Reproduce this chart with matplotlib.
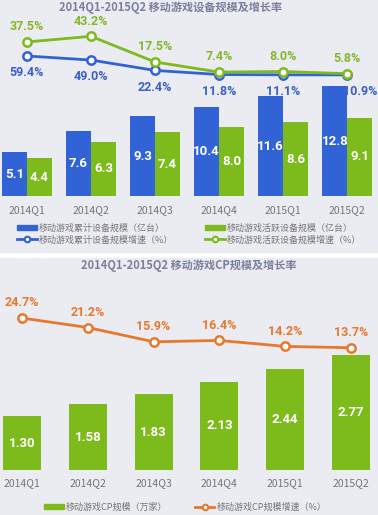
import matplotlib.pyplot as plt
from matplotlib.patches import Rectangle
from matplotlib.lines import Line2D

plt.rcParams['font.family'] = ['Noto Sans CJK SC', 'DejaVu Sans']

# Dados do gráfico superior
trimestres = ["2014Q1", "2014Q2", "2014Q3", "2014Q4", "2015Q1", "2015Q2"]
acumulado = [5.1, 7.6, 9.3, 10.4, 11.6, 12.8]
ativos = [4.4, 6.3, 7.4, 8.0, 8.6, 9.1]
cresc_acumulado = [59.4, 49.0, 22.4, 11.8, 11.1, 10.9]
cresc_ativos = [37.5, 43.2, 17.5, 7.4, 8.0, 5.8]

# Dados do gráfico inferior
cp_escala = [1.30, 1.58, 1.83, 2.13, 2.44, 2.77]
cp_cresc = [24.7, 21.2, 15.9, 16.4, 14.2, 13.7]

AZUL = "#3163d6"
VERDE = "#7dba1c"
LARANJA = "#e8782e"
FUNDO = "#ebecf2"
CINZA = "#757575"
TITULO = "#7a7f9c"
NUM = ["Roboto", "DejaVu Sans"]  # fonte mais estreita para os números

W, H = 378, 515
fig = plt.figure(figsize=(W / 100, H / 100), dpi=100, facecolor="white")

def fy(px):  # pixel a partir do topo -> fração da figura
    return 1 - px / H

# Fundos dos painéis
fig.patches.append(Rectangle((0, fy(252)), 1, 1 - fy(252), transform=fig.transFigure, color=FUNDO, zorder=-10))
fig.patches.append(Rectangle((0, 0), 1, fy(258), transform=fig.transFigure, color=FUNDO, zorder=-10))

x = list(range(len(trimestres)))

# ---------- Painel superior ----------
ax1 = fig.add_axes([0, fy(196), 1, fy(20) - fy(196)])
ax1.set_xlim(-0.42, 5.48)
ax1.set_ylim(0, 20.5)
larg = 0.39
b1 = ax1.bar([i - larg / 2 for i in x], acumulado, larg, color=AZUL)
b2 = ax1.bar([i + larg / 2 for i in x], ativos, larg, color=VERDE)
for barras in (b1, b2):
    for b in barras:
        ax1.text(b.get_x() + b.get_width() / 2, b.get_height() / 2, f"{b.get_height():.1f}",
                 ha="center", va="center", color="white", fontsize=9.5, fontweight="bold",
                 family=NUM)
ax1.axis("off")
for i, t in enumerate(trimestres):
    ax1.text(i, -1.6, t, ha="center", va="center", color=CINZA, fontsize=7.5)

axb = ax1.twinx()
axb.set_ylim(-299.6, 151.7)
axb.plot(x, cresc_acumulado, color=AZUL, lw=2, marker="o", ms=6, mfc="white", mew=1.8, zorder=5)
axb.axis("off")
for i, v in enumerate(cresc_acumulado):
    dx = 9 if i == len(x) - 1 else 0
    axb.annotate(f"{v:.1f}%", (i, v), xytext=(dx, -12), textcoords="offset points",
                 ha="center", va="center", color="#3a5fcc", fontsize=9, fontweight="bold",
                 family=NUM)

axg = ax1.twinx()
axg.set_ylim(-116.5, 59.5)
axg.plot(x, cresc_ativos, color=VERDE, lw=2, marker="o", ms=6, mfc="white", mew=1.8, zorder=6)
axg.axis("off")
for i, v in enumerate(cresc_ativos):
    axg.annotate(f"{v:.1f}%", (i, v), xytext=(0, 11), textcoords="offset points",
                 ha="center", va="center", color="#86b52a", fontsize=9, fontweight="bold",
                 family=NUM)

fig.text(0.45, fy(8), "2014Q1-2015Q2 移动游戏设备规模及增长率", ha="center", va="center",
         color=TITULO, fontsize=8, fontweight="bold")

leg1 = [Rectangle((0, 0), 1, 1, color=AZUL), Rectangle((0, 0), 1, 1, color=VERDE),
        Line2D([], [], color=AZUL, lw=2, marker="o", ms=4, mfc="white", mew=1.5),
        Line2D([], [], color=VERDE, lw=2, marker="o", ms=4, mfc="white", mew=1.5)]
nomes1 = ["移动游戏累计设备规模（亿台）", "移动游戏活跃设备规模（亿台）",
          "移动游戏累计设备规模增速（%）", "移动游戏活跃设备规模增速（%）"]
fig.legend([leg1[0], leg1[2], leg1[1], leg1[3]], [nomes1[0], nomes1[2], nomes1[1], nomes1[3]],
           ncol=2, loc="center", bbox_to_anchor=(0.5, fy(234)), frameon=False,
           fontsize=6.5, labelcolor=CINZA, handlelength=2.2, handleheight=0.6,
           handletextpad=0.2, columnspacing=3.5, labelspacing=0.25)

# ---------- Painel inferior ----------
ax2 = fig.add_axes([0, fy(470), 1, fy(280) - fy(470)])
ax2.set_xlim(-0.334, 5.41)
ax2.set_ylim(0, 4.58)
b3 = ax2.bar(x, cp_escala, 0.58, color=VERDE)
for b in b3:
    ax2.text(b.get_x() + b.get_width() / 2, b.get_height() / 2, f"{b.get_height():.2f}",
             ha="center", va="center", color="white", fontsize=9.5, fontweight="bold",
             family=NUM)
ax2.axis("off")
for i, t in enumerate(trimestres):
    ax2.text(i, -0.31, t, ha="center", va="center", color=CINZA, fontsize=7.5)

axo = ax2.twinx()
axo.set_ylim(-31.6, 38.8)
axo.plot(x, cp_cresc, color=LARANJA, lw=2, marker="o", ms=6, mfc="white", mew=1.8, zorder=5)
axo.axis("off")
for i, v in enumerate(cp_cresc):
    axo.annotate(f"{v:.1f}%", (i, v), xytext=(0, 11), textcoords="offset points",
                 ha="center", va="center", color=LARANJA, fontsize=9, fontweight="bold",
                 family=NUM)

fig.text(0.5, fy(266), "2014Q1-2015Q2 移动游戏CP规模及增长率", ha="center", va="center",
         color=TITULO, fontsize=8, fontweight="bold")

leg2 = [Rectangle((0, 0), 1, 1, color=VERDE),
        Line2D([], [], color=LARANJA, lw=2, marker="o", ms=4, mfc="white", mew=1.5)]
fig.legend(leg2, ["移动游戏CP规模（万家）", "移动游戏CP规模增速（%）"],
           ncol=2, loc="center", bbox_to_anchor=(0.49, fy(507)), frameon=False,
           fontsize=6.5, labelcolor=CINZA, handlelength=2.2, handleheight=0.6,
           handletextpad=0.2, columnspacing=3.0)

fig.savefig("out.png", dpi=100, facecolor="white")
